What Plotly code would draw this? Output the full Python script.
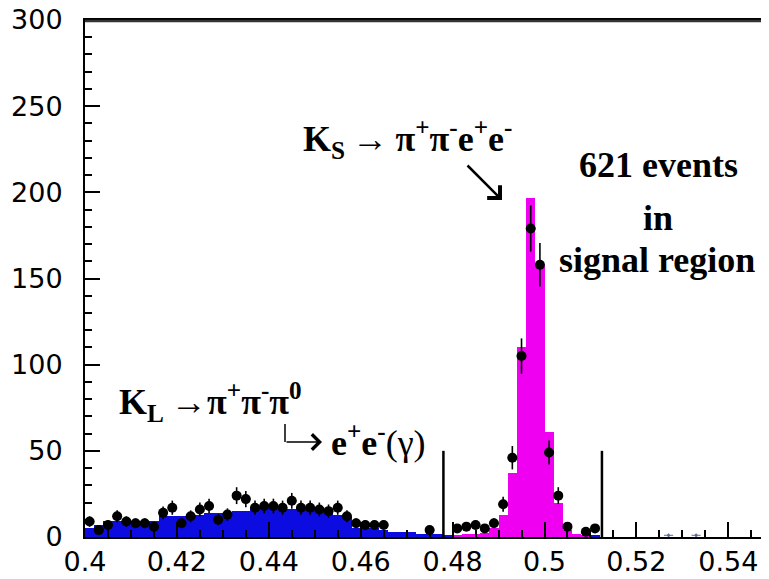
import math
import plotly.graph_objects as go

# ---------------- data ----------------
BIN_WIDTH = 0.002

# K_L -> pi+ pi- pi0 (Dalitz) background MC (blue), bin centers
BLUE_X = [0.401, 0.403, 0.405, 0.407, 0.409, 0.411, 0.413, 0.415, 0.417, 0.419,
          0.421, 0.423, 0.425, 0.427, 0.429, 0.431, 0.433, 0.435, 0.437, 0.439,
          0.441, 0.443, 0.445, 0.447, 0.449, 0.451, 0.453, 0.455, 0.457, 0.459,
          0.461, 0.463, 0.465, 0.467, 0.469, 0.471, 0.473, 0.475, 0.477, 0.479,
          0.481, 0.483, 0.485, 0.487, 0.489, 0.491, 0.493, 0.495, 0.497, 0.499,
          0.501, 0.503, 0.505, 0.507, 0.509, 0.511]
BLUE_Y = [5, 7, 9, 9, 9, 9, 9, 9, 12, 12,
          12, 12, 13, 14, 14, 14, 15, 15, 17, 17,
          17, 17, 16.5, 16, 16, 16, 15, 12.5, 12, 5,
          5, 5, 4, 3, 3, 3, 2, 1.5, 1.5, 1,
          0.8, 0.8, 0.8, 0.8, 0.8, 0.8, 0.8, 0.8, 0.8, 0.8,
          0.8, 0.8, 0.8, 0.8, 0.8, 0.8]

# K_S -> pi+ pi- e+ e- signal MC (magenta)
PINK_X = [0.481, 0.483, 0.485, 0.487, 0.489, 0.491, 0.493, 0.495, 0.497, 0.499,
          0.501, 0.503, 0.505, 0.507, 0.509]
PINK_Y = [1, 1.5, 2, 2.5, 5, 13, 37, 110, 197, 157,
          61, 20, 4, 1.5, 1]

# data points
DATA_X = [0.401, 0.403, 0.405, 0.407, 0.409, 0.411, 0.413, 0.415, 0.417, 0.419,
          0.421, 0.423, 0.425, 0.427, 0.429, 0.431, 0.433, 0.435, 0.437, 0.439,
          0.441, 0.443, 0.445, 0.447, 0.449, 0.451, 0.453, 0.455, 0.457, 0.459,
          0.461, 0.463, 0.465, 0.475,
          0.481, 0.483, 0.485, 0.487, 0.489, 0.491, 0.493, 0.495, 0.497, 0.499,
          0.501, 0.503, 0.505, 0.509, 0.511]
DATA_Y = [9, 4, 7, 12, 9, 8, 8, 6, 14, 17,
          8, 12, 16, 18, 10, 13, 24, 22, 17, 18,
          18, 17, 21, 17, 17, 16, 15, 17, 12, 8,
          7, 7, 7, 4,
          5, 6, 7, 5, 8, 19, 46, 105, 179, 158,
          49, 24, 6, 3, 5]

# sparse points outside the signal region
TAIL_X = [0.527, 0.533]
TAIL_Y = [1, 1]

# signal region boundaries
CUT_X = [0.478, 0.5125]
CUT_HEIGHT = 50

X_TICKS = [0.40, 0.42, 0.44, 0.46, 0.48, 0.50, 0.52, 0.54]
X_TICK_LABELS = ["0.4", "0.42", "0.44", "0.46", "0.48", "0.5", "0.52", "0.54"]
Y_TICKS = [0, 50, 100, 150, 200, 250, 300]
Y_MAX = 300

# ---------------- layout geometry ----------------
# page body has an 8px margin, so the figure is offset by (8, 8) in the window
OFF = 8
W, H = 769, 579
PL, PR, PT, PB = 85, 769, 20, 537          # plot area in window pixels
ML, MT = PL - OFF, PT - OFF
MR, MB = (W + OFF - PR), (H + OFF - PB)
PW, PH = PR - PL, PB - PT
X0 = 0.4
X1 = X0 + PW / 4595.0


def px(xp):
    return (xp - PL) / PW


def py(yp):
    return (PB - yp) / PH


fig = go.Figure()

fig.add_trace(go.Bar(x=BLUE_X, y=BLUE_Y, width=BIN_WIDTH,
                     marker=dict(color="#0c0ce0", line=dict(width=0)),
                     showlegend=False, hoverinfo="skip"))
fig.add_trace(go.Bar(x=PINK_X, y=PINK_Y, width=BIN_WIDTH,
                     marker=dict(color="#f000f0", line=dict(width=0)),
                     showlegend=False, hoverinfo="skip"))

fig.add_trace(go.Scatter(
    x=DATA_X, y=DATA_Y, mode="markers",
    marker=dict(color="black", size=10, symbol="circle"),
    error_y=dict(type="data", array=[math.sqrt(v) for v in DATA_Y],
                 color="black", thickness=1.6, width=0),
    error_x=dict(type="constant", value=BIN_WIDTH / 2,
                 color="black", thickness=1.6, width=0),
    showlegend=False))

fig.add_trace(go.Scatter(
    x=TAIL_X, y=TAIL_Y, mode="markers",
    marker=dict(color="#5a6aa0", size=3),
    error_y=dict(type="data", array=[math.sqrt(v) for v in TAIL_Y],
                 color="#5a6aa0", thickness=1, width=0),
    error_x=dict(type="constant", value=BIN_WIDTH / 2,
                 color="#5a6aa0", thickness=1, width=0),
    showlegend=False))

for cx in CUT_X:
    fig.add_shape(type="line", x0=cx, x1=cx, y0=0, y1=CUT_HEIGHT,
                  xref="x", yref="y", line=dict(color="black", width=2.5))

# top frame line, drawn just inside the top edge of the plot area
fig.add_shape(type="line", x0=0, x1=1, y0=py(PT + 1), y1=py(PT + 1),
              xref="paper", yref="paper",
              layer="above", line=dict(color="#333333", width=2.5))

serif = "Liberation Serif"
BIG = 36
TS = "\u2009"

annots = [
    dict(text=f"<b>K<sub>S</sub></b>{TS}→{TS}<b>π<sup>+</sup>π<sup>-</sup>e<sup>+</sup>e<sup>-</sup></b>",
         x=px(301), y=py(139), xanchor="left", yanchor="middle"),
    dict(text="<b>621 events</b>", x=px(658), y=py(165), xanchor="center", yanchor="middle"),
    dict(text="<b>in</b>", x=px(658), y=py(218), xanchor="center", yanchor="middle"),
    dict(text="<b>signal region</b>", x=px(657), y=py(260), xanchor="center", yanchor="middle"),
    dict(text=f"<b>K<sub>L</sub></b>{TS}→<b>π<sup>+</sup>π<sup>-</sup>π<sup>0</sup></b>",
         x=px(117), y=py(402), xanchor="left", yanchor="middle"),
    dict(text="<b>e<sup>+</sup>e<sup>-</sup></b>(γ)",
         x=px(329), y=py(440), xanchor="left", yanchor="middle"),
]
for a in annots:
    fig.add_annotation(xref="paper", yref="paper", showarrow=False,
                       font=dict(family=serif, size=BIG, color="black"), **a)

# diagonal arrow toward the peak
fig.add_annotation(xref="paper", yref="paper", x=px(502), y=py(200),
                   ax=-36, ay=-36, text="", showarrow=True,
                   arrowhead=4, arrowsize=1.4, arrowwidth=2.5, arrowcolor="black")

# hooked arrow under pi0
fig.add_shape(type="line", xref="paper", yref="paper",
              x0=px(285), x1=px(285), y0=py(424), y1=py(442),
              line=dict(color="black", width=1.5))
fig.add_annotation(xref="paper", yref="paper", x=px(322), y=py(442),
                   ax=-37, ay=0, text="", showarrow=True,
                   arrowhead=4, arrowsize=2, arrowwidth=1.5, arrowcolor="black")

fig.update_layout(
    width=W, height=H,
    margin=dict(l=ML, r=MR, t=MT, b=MB, pad=0, autoexpand=False),
    paper_bgcolor="white", plot_bgcolor="white",
    barmode="overlay", bargap=0,
    showlegend=False,
    font=dict(family="DejaVu Sans", size=27, color="black"),
)

fig.update_xaxes(
    range=[X0, X1], showgrid=False, zeroline=False, automargin=False,
    showline=True, linecolor="black", linewidth=2, mirror=True,
    ticks="inside", ticklen=15, tickwidth=1.5, tickcolor="black",
    tickvals=X_TICKS, ticktext=X_TICK_LABELS,
    tickfont=dict(family="DejaVu Sans", size=27, color="black"),
    ticklabelstandoff=0, ticklabeloverflow="allow",
    minor=dict(dtick=0.005, tick0=0.4, ticks="inside", ticklen=7,
               tickwidth=1.5, tickcolor="black", showgrid=False),
)
fig.update_yaxes(
    range=[0, Y_MAX], showgrid=False, zeroline=False, automargin=False,
    showline=True, linecolor="black", linewidth=2,
    ticks="inside", ticklen=15, tickwidth=1.5, tickcolor="black",
    tickvals=Y_TICKS,
    tickfont=dict(family="DejaVu Sans", size=27, color="black"),
    ticklabelstandoff=15, ticklabeloverflow="allow",
    minor=dict(dtick=10, tick0=0, ticks="inside", ticklen=7,
               tickwidth=1.5, tickcolor="black", showgrid=False),
)

fig.write_html("out.html", config={"displayModeBar": False})
